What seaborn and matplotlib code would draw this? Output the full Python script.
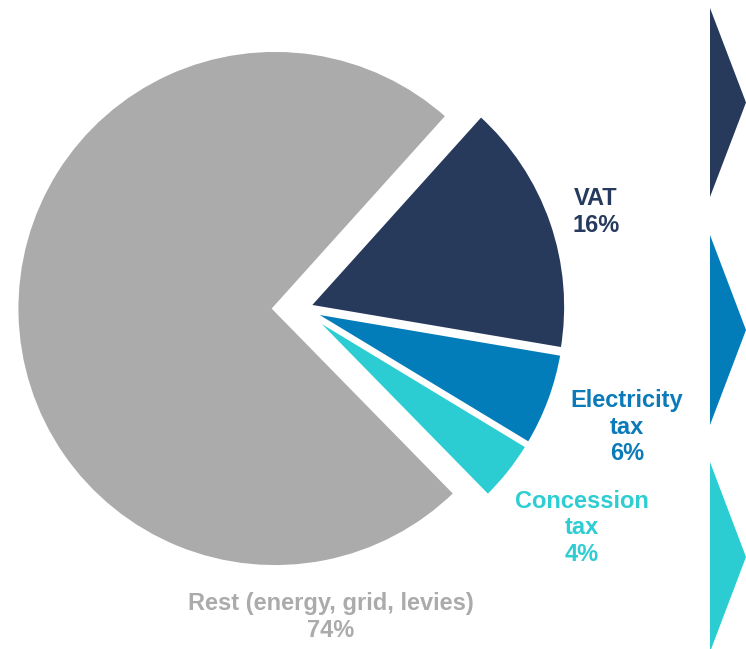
import matplotlib
matplotlib.use("Agg")
import matplotlib.pyplot as plt
from matplotlib.patches import Polygon
import seaborn as sns

# Composition of the household electricity price
categories = ["VAT", "Electricity\ntax", "Concession\ntax", "Rest (energy, grid, levies)"]
shares = [16, 6, 4, 74]
slice_colors = ["#273A5C", "#037DBA", "#2BCDD3", "#ABABAB"]
label_colors = ["#263A5E", "#0B7AB8", "#2ECDD2", "#ABABAB"]

sns.set_theme(style="white")
plt.rcParams["font.family"] = ["Liberation Sans", "DejaVu Sans"]
palette = sns.color_palette(slice_colors)

W, H, DPI = 746, 649, 100
fig = plt.figure(figsize=(W / DPI, H / DPI), dpi=DPI)
ax = fig.add_axes([0, 0, 1, 1])

# pixel layout: pie centre and radius
cx, cy, R = 275, 308.5, 259
group_shift = 0.105  # the three tax slices are pulled out together

def to_data(px, py):
    return (px - cx) / R, (cy - py) / R

wedge_style = dict(edgecolor="white", linewidth=3.5)

# remainder slice, centred at the origin
rest_wedges, _ = ax.pie(shares, colors=palette, startangle=48, counterclock=False,
                        radius=1.0, center=(0, 0), wedgeprops=wedge_style)
for w in rest_wedges[:3]:
    w.set_visible(False)

# tax slices, shifted to the right as a group
tax_wedges, _ = ax.pie(shares, colors=palette, startangle=48, counterclock=False,
                       radius=1.0, center=(group_shift, 0),
                       explode=[0.022, 0.022, 0.022, 0], wedgeprops=wedge_style)
tax_wedges[3].set_visible(False)

# slice labels
label_pos = [(596, 212), (627, 427), (582, 528), (331, 617)]
for name, val, col, (px, py) in zip(categories, shares, label_colors, label_pos):
    x, y = to_data(px, py)
    ax.text(x, y, f"{name}\n{val}%", color=col, fontsize=17, fontweight="bold",
            ha="center", va="center", linespacing=1.17)

ax.set_xlim(-cx / R, (W - cx) / R)
ax.set_ylim(-(H - cy) / R, cy / R)
ax.set_aspect("auto")
ax.axis("off")

# chevron markers on the right edge
chevrons = [(8, 197), (235, 425), (462, 652)]
for (top, bot), col in zip(chevrons, slice_colors[:3]):
    left, tip = 710, 746
    pts = [(left / W, 1 - top / H), (tip / W, 1 - (top + bot) / 2 / H), (left / W, 1 - bot / H)]
    fig.patches.append(Polygon(pts, closed=True, facecolor=col, edgecolor="none",
                               transform=fig.transFigure))

fig.savefig("out.png", dpi=DPI, facecolor="white")
